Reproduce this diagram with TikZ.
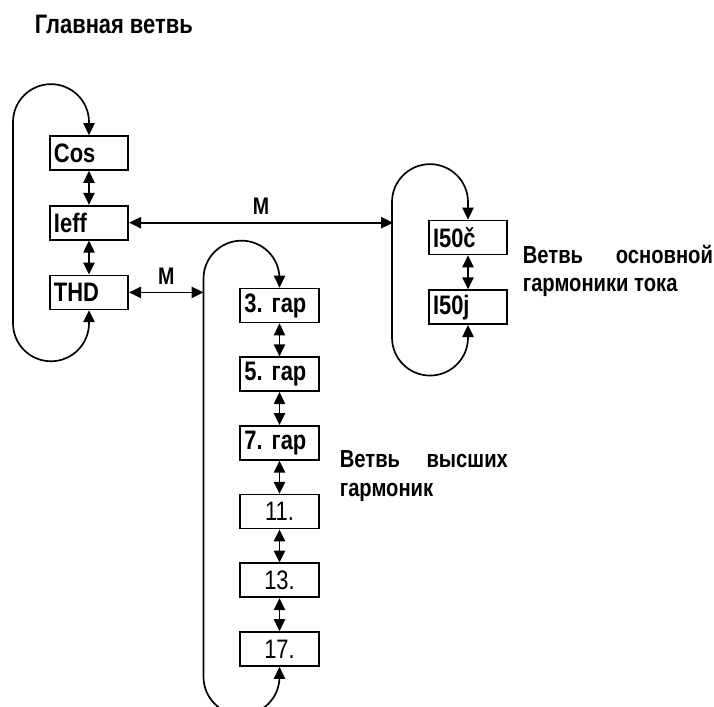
\documentclass[tikz,border=0pt]{standalone}
\usepackage{fontspec}
\setmainfont{Liberation Sans}[FakeStretch=0.82]
\usetikzlibrary{positioning,arrows.meta,calc}

\begin{document}
\frenchspacing
\begin{tikzpicture}[
  x=0.025cm, y=-0.025cm,
  font=\fontsize{19}{20.5}\selectfont\bfseries,
  >={Triangle[length=8.5pt,width=8pt]},
  line width=1.2pt,
  box/.style={draw, line width=1.2pt, minimum width=1.9cm, minimum height=0.85cm, text width=1.75cm, align=left, inner xsep=3pt, inner ysep=0pt},
  nbox/.style={box, align=center, font=\fontsize{19}{20.5}\selectfont\mdseries},
  lab/.style={font=\fontsize{17}{18}\selectfont\bfseries, inner sep=1pt},
  ttl/.style={anchor=north west, inner sep=0pt, align=left},
  brn/.style={ttl, font=\fontsize{17.5}{20.5}\selectfont\bfseries}
]
\useasboundingbox (0,0) rectangle (714,707);

% ---------------- MAIN BRANCH ----------------
\node[ttl] (title) at (34,14) {Главная ветвь};
\node (cos) at (89,153) [box] {Cos};
\node (ieff) [box, below=0.85cm of cos] {Ieff};
\node (thd) [box, below=0.85cm of ieff] {THD};
\draw[<->] (cos) -- (ieff);
\draw[<->] (ieff) -- (thd);
\draw[<->] (thd.south) -- ++(0,13) arc[start angle=0, end angle=180, radius=38]
  -- ($(cos.north)+(-76,-13)$) arc[start angle=180, end angle=360, radius=38] -- (cos.north);

% ---------------- HIGHER HARMONICS ----------------
\node (g3) at (279.5,305.5) [box] {3. гар};
\node (g5) [box, below=0.825cm of g3] {5. гар};
\node (g7) [box, below=0.825cm of g5] {7. гар};
\node (g11) [nbox, below=0.825cm of g7] {11.};
\node (g13) [nbox, below=0.825cm of g11] {13.};
\node (g17) [nbox, below=0.825cm of g13] {17.};
\foreach \a/\b in {g3/g5, g5/g7, g7/g11, g11/g13, g13/g17}
  \draw[<->] (\a) -- (\b);
\draw[<->] (g17.south) -- ++(0,10) arc[start angle=0, end angle=180, radius=38]
  -- ($(g3.north)+(-76,-9)$) arc[start angle=180, end angle=360, radius=38] -- (g3.north);
\node[brn] (hname) at (339,450) {\makebox[4.2cm][s]{Ветвь высших}\\гармоник};

% ---------------- FUNDAMENTAL ----------------
\node (i50c) at (468,237.5) [box] {I50č};
\node (i50j) [box, below=0.85cm of i50c] {I50j};
\draw[<->] (i50c) -- (i50j);
\draw[<->] (i50j.south) -- ++(0,12.5) arc[start angle=0, end angle=180, radius=38]
  -- ($(i50c.north)+(-76,-17.5)$) arc[start angle=180, end angle=360, radius=38] -- (i50c.north);
\node[brn] (fname) at (522,244) {\makebox[4.75cm][s]{Ветвь основной}\\гармоники тока};

% ---------------- M LINKS ----------------
\coordinate (rin) at ($(ieff.east -| i50c.center)+(-75,0)$);
\coordinate (hin) at ($(thd.east -| g3.center)+(-76,0)$);
\draw[<->] (ieff.east) -- (rin) node[midway, above=4pt, lab] {M};
\draw[<->] (thd.east) -- (hin) node[midway, above=4pt, lab] {M};

\end{tikzpicture}
\end{document}
